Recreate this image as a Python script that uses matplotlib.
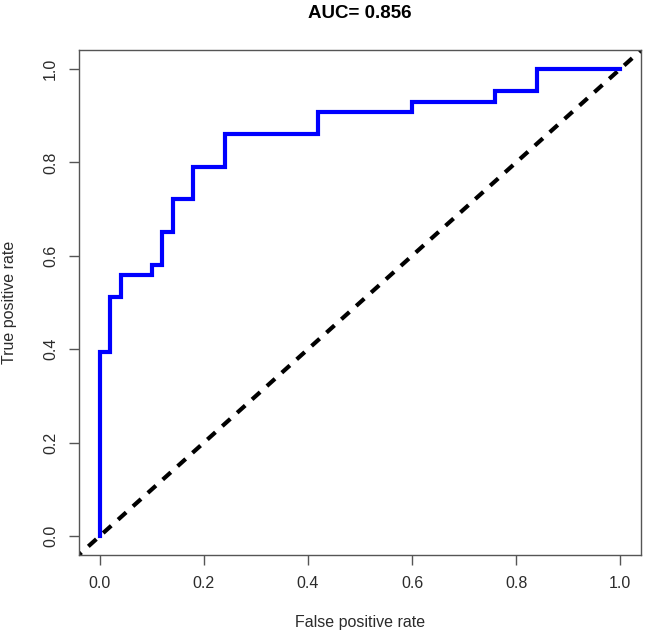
import matplotlib
matplotlib.use('Agg')
import matplotlib.pyplot as plt

# ROC curve points (step corners)
fpr = [0.0, 0.0, 0.02, 0.02, 0.04, 0.04, 0.10, 0.10, 0.12, 0.12, 0.14, 0.14,
       0.18, 0.18, 0.24, 0.24, 0.42, 0.42, 0.60, 0.60, 0.76, 0.76, 0.84, 0.84, 1.0]
tpr = [0.0, 0.395, 0.395, 0.512, 0.512, 0.558, 0.558, 0.581, 0.581, 0.651, 0.651, 0.721,
       0.721, 0.791, 0.791, 0.860, 0.860, 0.907, 0.907, 0.930, 0.930, 0.953, 0.953, 1.0, 1.0]
auc = 0.856
ticks = [0.0, 0.2, 0.4, 0.6, 0.8, 1.0]
tick_labels = ['0.0', '0.2', '0.4', '0.6', '0.8', '1.0']

plt.rcParams['font.family'] = ['Liberation Sans', 'DejaVu Sans']
txt_color = '#2b2b2b'
frame_color = '#555555'

fig = plt.figure(figsize=(6.45, 6.36), dpi=100)
ax = fig.add_axes([79 / 645, 1 - 554.7 / 636, (641 - 79) / 645, (554.7 - 50.3) / 636])

ax.plot(fpr, tpr, color='#0000ff', lw=3, solid_joinstyle='miter', zorder=3)
ax.plot([-1, 2], [-1, 2], color='black', lw=3, dashes=(2.6, 2.2), zorder=2)

ax.set_xlim(-0.04, 1.04)
ax.set_ylim(-0.04, 1.04)
ax.set_xticks(ticks)
ax.set_xticklabels(tick_labels)
ax.set_yticks(ticks)
ax.set_yticklabels(tick_labels, rotation=90, va='center')
ax.tick_params(length=7, width=1, color=frame_color, labelsize=11.5,
               labelcolor=txt_color, pad=8)
for s in ax.spines.values():
    s.set_color(frame_color)
    s.set_linewidth(1)

fig.text(360 / 645, 1 - 13 / 636, f'AUC= {auc}', ha='center', va='center',
         fontsize=13.5, fontweight='bold', color='black')
fig.text(360 / 645, 1 - 623 / 636, 'False positive rate', ha='center', va='center',
         fontsize=11.5, color=txt_color)
fig.text(10 / 645, 1 - 302.5 / 636, 'True positive rate', ha='center', va='center',
         rotation=90, fontsize=11.5, color=txt_color)

fig.savefig('out.png', dpi=100)
